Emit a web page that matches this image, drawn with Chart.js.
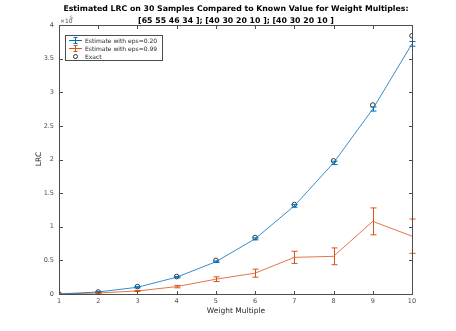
<!DOCTYPE html>
<html>
<head>
<meta charset="utf-8">
<script src="https://cdn.jsdelivr.net/npm/chart.js@4.4.1/dist/chart.umd.min.js"></script>
<style>
  html, body { margin: 0; padding: 0; background: #fff; }
  #wrap { width: 456px; height: 331px; }
</style>
</head>
<body>
<div id="wrap"><canvas id="lrc" width="456" height="331"></canvas></div>
<script>
// Weight multiples on the x axis
const multiples = [1, 2, 3, 4, 5, 6, 7, 8, 9, 10];

// Estimate with eps=0.20 (values and half-width of the error bar)
const est020 = [0, 3000, 10000, 25000, 48000, 82000, 131000, 195000, 275000, 372000];
const err020 = [0, 500, 800, 1000, 1200, 1500, 2000, 2500, 3000, 3500];

// Estimate with eps=0.99
const est099 = [0, 1500, 4500, 11000, 22000, 31000, 54500, 56000, 108000, 86000];
const err099 = [0, 500, 800, 1800, 3500, 6000, 9000, 12500, 20000, 25500];

// Known exact values
const exact = [0, 3000, 11000, 26000, 50000, 84000, 133000, 198000, 281000, 384000];

const yTicks = [0, 50000, 100000, 150000, 200000, 250000, 300000, 350000, 400000];

const colors = {
    blue: '#0072BD',
    orange: '#D95319',
    axis: '#4d4d4d',
    text: '#262626'
};

const FONT = "'DejaVu Sans', sans-serif";

function pts(ys) {
    return multiples.map((x, i) => ({ x: x, y: ys[i] }));
}

// Draws vertical error bars with caps for datasets that carry an `errors` array
const errorBars = {
    id: 'errorBars',
    afterDatasetsDraw(chart) {
        const ctx = chart.ctx;
        const xs = chart.scales.x, ys = chart.scales.y;
        chart.data.datasets.forEach(ds => {
            if (!ds.errors) return;
            ctx.save();
            ctx.strokeStyle = ds.borderColor;
            ctx.lineWidth = 1;
            ds.data.forEach((p, i) => {
                const e = ds.errors[i];
                if (!e) return;
                const px = Math.round(xs.getPixelForValue(p.x)) + 0.5;
                const top = ys.getPixelForValue(p.y + e);
                const bot = ys.getPixelForValue(p.y - e);
                ctx.beginPath();
                ctx.moveTo(px, top); ctx.lineTo(px, bot);
                ctx.moveTo(px - 3, top); ctx.lineTo(px + 3, top);
                ctx.moveTo(px - 3, bot); ctx.lineTo(px + 3, bot);
                ctx.stroke();
            });
            ctx.restore();
        });
    }
};

// MATLAB style box with inward ticks, titles, exponent and legend
const decorations = {
    id: 'decorations',
    afterDraw(chart) {
        const ctx = chart.ctx;
        const a = chart.chartArea;
        const xs = chart.scales.x, ys = chart.scales.y;
        ctx.save();
        ctx.strokeStyle = colors.axis;
        ctx.lineWidth = 1;
        const L = Math.round(a.left) + 0.5, R = Math.round(a.right) + 0.5;
        const T = Math.round(a.top) + 0.5, B = Math.round(a.bottom) + 0.5;
        ctx.strokeRect(L, T, R - L, B - T);
        ctx.beginPath();
        multiples.forEach(v => {
            const px = Math.round(xs.getPixelForValue(v)) + 0.5;
            ctx.moveTo(px, B); ctx.lineTo(px, B - 3.5);
            ctx.moveTo(px, T); ctx.lineTo(px, T + 3.5);
        });
        yTicks.forEach(v => {
            const py = Math.round(ys.getPixelForValue(v)) + 0.5;
            ctx.moveTo(L, py); ctx.lineTo(L + 3.5, py);
            ctx.moveTo(R, py); ctx.lineTo(R - 3.5, py);
        });
        ctx.stroke();

        // title
        ctx.fillStyle = '#000';
        ctx.textAlign = 'center';
        ctx.textBaseline = 'middle';
        ctx.font = 'bold 7.8px ' + FONT;
        ctx.fillText('Estimated LRC on 30 Samples Compared to Known Value for Weight Multiples:', 236, 9);
        ctx.fillText('[65 55 46 34 ]; [40 30 20 10 ]; [40 30 20 10 ]', 236, 21);

        // axis titles
        ctx.fillStyle = colors.text;
        ctx.font = '7.5px ' + FONT;
        ctx.fillText('Weight Multiple', (L + R) / 2, 311);
        ctx.save();
        ctx.translate(39, 159);
        ctx.rotate(-Math.PI / 2);
        ctx.fillText('LRC', 0, 0);
        ctx.restore();

        // exponent
        ctx.fillStyle = colors.axis;
        ctx.textAlign = 'left';
        ctx.font = '6px ' + FONT;
        ctx.fillText('\u00d710', 60, 21);
        ctx.font = '4.5px ' + FONT;
        ctx.fillText('5', 70, 18);

        // legend
        const lx = 65.5, ly = 35.5, lw = 97, lh = 25;
        ctx.fillStyle = '#fff';
        ctx.fillRect(lx, ly, lw, lh);
        ctx.strokeStyle = colors.axis;
        ctx.strokeRect(lx, ly, lw, lh);
        const rows = [
            { label: 'Estimate with eps=0.20', color: colors.blue, type: 'err' },
            { label: 'Estimate with eps=0.99', color: colors.orange, type: 'err' },
            { label: 'Exact', color: '#333', type: 'circle' }
        ];
        ctx.font = '6px ' + FONT;
        rows.forEach((r, i) => {
            const cy = ly + 5 + i * 8;
            ctx.strokeStyle = r.color;
            ctx.lineWidth = 1;
            ctx.beginPath();
            if (r.type === 'err') {
                ctx.moveTo(69, cy); ctx.lineTo(82, cy);
                ctx.moveTo(75.5, cy - 3); ctx.lineTo(75.5, cy + 3);
                ctx.moveTo(73.5, cy - 3); ctx.lineTo(77.5, cy - 3);
                ctx.moveTo(73.5, cy + 3); ctx.lineTo(77.5, cy + 3);
                ctx.stroke();
            } else {
                ctx.arc(75.5, cy, 2, 0, Math.PI * 2);
                ctx.stroke();
            }
            ctx.fillStyle = colors.text;
            ctx.fillText(r.label, 85, cy + 0.5);
        });
        ctx.restore();
    }
};

new Chart(document.getElementById('lrc').getContext('2d'), {
    type: 'line',
    data: {
        datasets: [
            {
                label: 'Estimate with eps=0.20',
                data: pts(est020),
                errors: err020,
                borderColor: colors.blue,
                borderWidth: 0.8,
                pointRadius: 0,
                tension: 0,
                fill: false
            },
            {
                label: 'Estimate with eps=0.99',
                data: pts(est099),
                errors: err099,
                borderColor: colors.orange,
                borderWidth: 0.8,
                pointRadius: 0,
                tension: 0,
                fill: false
            },
            {
                label: 'Exact',
                data: pts(exact),
                showLine: false,
                borderColor: '#222',
                backgroundColor: 'rgba(0,0,0,0)',
                borderWidth: 0.9,
                pointStyle: 'circle',
                pointRadius: 2.3
            }
        ]
    },
    options: {
        responsive: false,
        animation: false,
        layout: { padding: { top: 25, right: 44, left: 0, bottom: 0 } },
        plugins: {
            legend: { display: false },
            title: { display: false },
            tooltip: { enabled: false }
        },
        scales: {
            x: {
                type: 'linear',
                min: 1,
                max: 10,
                afterFit: s => { s.height = 37; },
                grid: { display: false, drawTicks: false },
                border: { display: false },
                ticks: {
                    stepSize: 1,
                    padding: 3,
                    color: colors.axis,
                    font: { family: FONT, size: 6.5 }
                }
            },
            y: {
                min: 0,
                max: 400000,
                afterFit: s => { s.width = 59; },
                afterBuildTicks: s => { s.ticks = yTicks.map(v => ({ value: v })); },
                grid: { display: false, drawTicks: false },
                border: { display: false },
                ticks: {
                    padding: 5,
                    color: colors.axis,
                    font: { family: FONT, size: 6.5 },
                    callback: v => String(v / 100000)
                }
            }
        }
    },
    plugins: [errorBars, decorations]
});
</script>
</body>
</html>
